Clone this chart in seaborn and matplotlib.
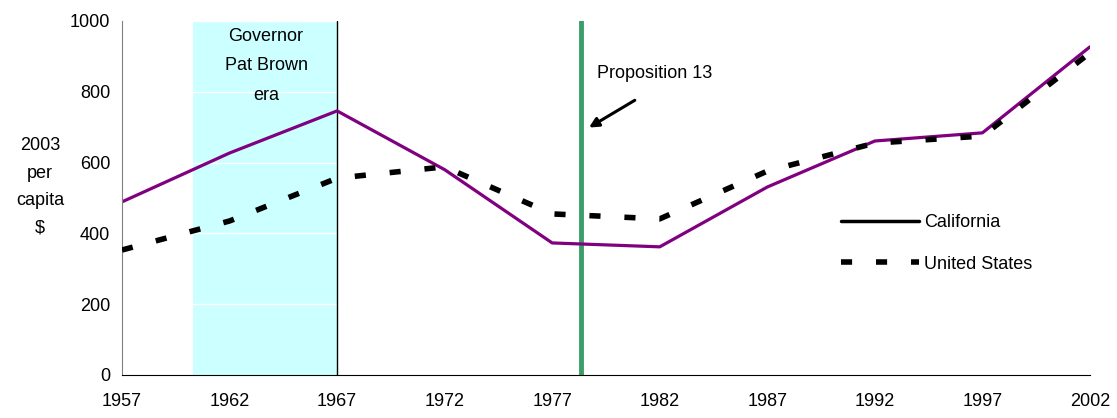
import matplotlib
matplotlib.use('Agg')
import matplotlib.pyplot as plt
from matplotlib.lines import Line2D
import numpy as np
import pandas as pd
import seaborn as sns

# data (2003 $ per capita)
years = [1957, 1962, 1967, 1972, 1977, 1982, 1987, 1992, 1997, 2002]
california = [489, 627, 746, 580, 373, 362, 531, 661, 684, 927]
united_states = [353, 435, 556, 588, 455, 441, 576, 655, 675, 910]
year_ticks = [1957, 1962, 1967, 1972, 1977, 1982, 1987, 1992, 1997, 2002]
brown_era = (1960.3, 1967)
prop13_year = 1978.35

sns.set_style('white')
plt.rcParams['font.family'] = ['Liberation Sans', 'DejaVu Sans']
plt.rcParams['text.color'] = 'black'

df = pd.DataFrame({'year': years * 2,
                   'value': california + united_states,
                   'region': ['California'] * len(years) + ['United States'] * len(years)})

fig, ax = plt.subplots(figsize=(11.17, 4.18), dpi=100)
fig.subplots_adjust(left=0.1092, right=0.9758, top=0.9498, bottom=0.1029)

# shaded Pat Brown era and markers
ax.axvspan(*brown_era, color='#ccffff', zorder=0.5, lw=0)
ax.axvline(brown_era[1], color='black', lw=1, zorder=1)
ax.axvline(prop13_year, color='#3a9e6a', lw=3.5, zorder=1)

sns.lineplot(data=df[df.region == 'United States'], x='year', y='value', color='black',
             lw=4, ax=ax, legend=False, zorder=3)
ax.lines[-1].set_dashes((2.0, 4.3))
ax.lines[-1].set_dash_capstyle('butt')
sns.lineplot(data=df[df.region == 'California'], x='year', y='value', color='#800080',
             lw=2.3, ax=ax, legend=False, zorder=2)

ax.set_xlim(1957, 2002)
ax.set_ylim(0, 1000)
ax.set_xticks(year_ticks)
ax.set_yticks(np.arange(0, 1001, 200))
ax.set_xlabel('')
ax.set_ylabel('')
ax.yaxis.grid(True, color='white', lw=1)
ax.tick_params(axis='both', labelsize=13, labelcolor='black', direction='out', length=5, width=1)
ax.tick_params(axis='x', pad=8, color='black')
ax.tick_params(axis='y', color='#808080')
sns.despine(ax=ax)
ax.spines['left'].set_color('#808080')
ax.spines['bottom'].set_color('black')

ax.text(1963.7, 980, 'Governor\nPat Brown\nera', ha='center', va='top', fontsize=13,
        linespacing=1.95)
ax.text(1979.1, 853, 'Proposition 13', ha='left', va='center', fontsize=13)
ax.annotate('', xy=(1978.6, 695), xytext=(1980.95, 780),
            arrowprops=dict(arrowstyle='-|>', color='black', lw=2.2, mutation_scale=14))

fig.text(40 / 1117, 1 - 187 / 418, '2003\nper\ncapita\n$', ha='center', va='center',
         fontsize=13, linespacing=1.8)

handles = [Line2D([], [], color='black', lw=2.5),
           Line2D([], [], color='black', lw=4, dashes=(2.0, 4.3), dash_capstyle='butt')]
ax.legend(handles, ['California', 'United States'], loc='upper left',
          bbox_to_anchor=(0.726, 0.5), frameon=False, fontsize=13, handlelength=4.3,
          handletextpad=0.3, labelspacing=1.35)

fig.savefig('out.png', dpi=100)
